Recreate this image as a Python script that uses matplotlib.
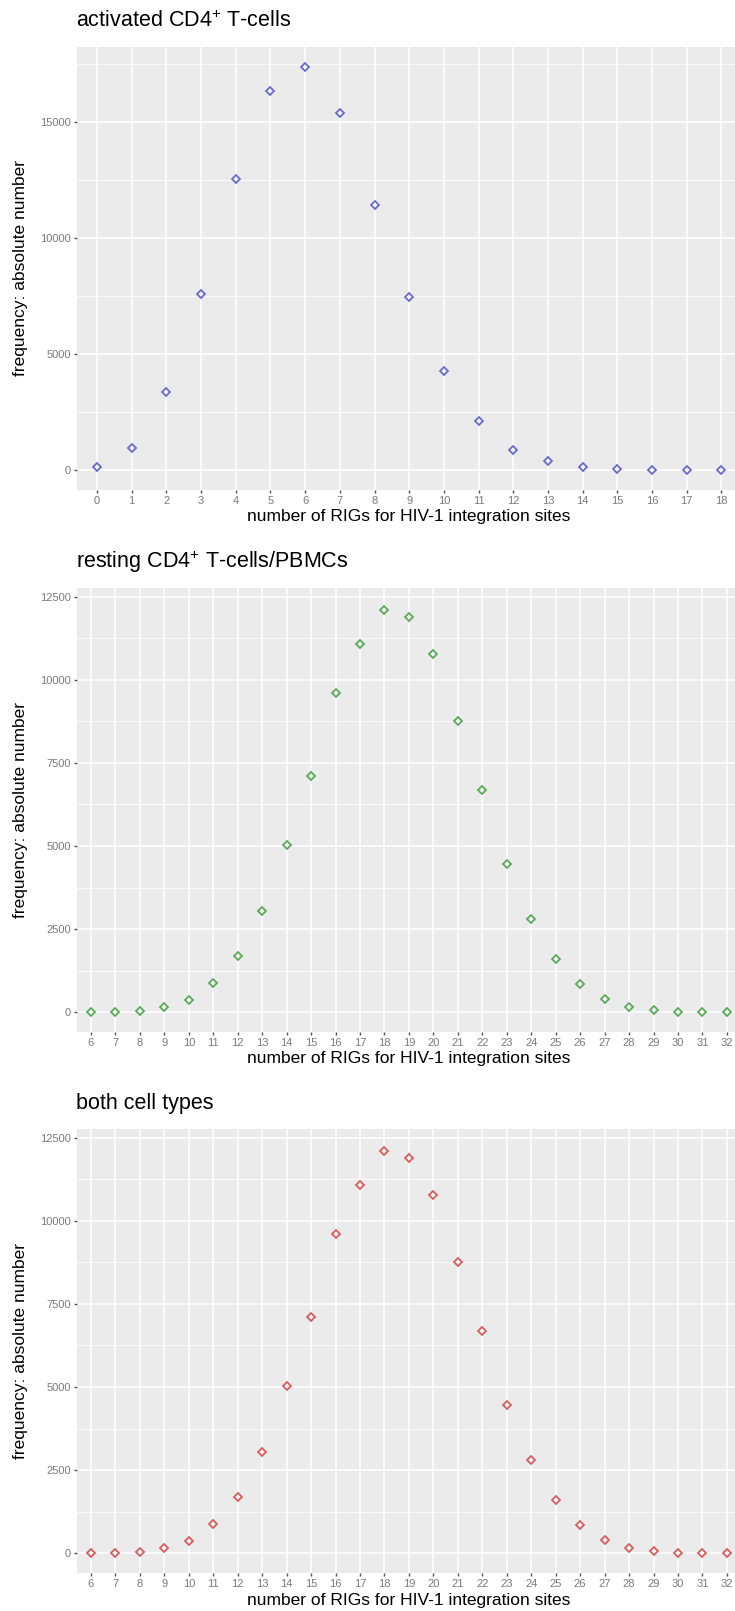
import matplotlib
matplotlib.use('Agg')
import matplotlib.pyplot as plt
from matplotlib.ticker import MultipleLocator

plt.rcParams['font.family'] = ['Liberation Sans', 'DejaVu Sans']
plt.rcParams['mathtext.fontset'] = 'custom'
plt.rcParams['mathtext.rm'] = 'Liberation Sans'
plt.rcParams['mathtext.it'] = 'Liberation Sans:italic'
plt.rcParams['mathtext.bf'] = 'Liberation Sans:bold'

# ---------------- data ----------------
act_x = list(range(0, 19))
act_y = [130, 930, 3350, 7580, 12520, 16330, 17370, 15360, 11420, 7460,
         4250, 2110, 870, 370, 130, 50, 15, 5, 2]

rest_x = list(range(6, 33))
rest_y = [5, 10, 50, 170, 370, 890, 1700, 3040, 5040, 7100, 9600, 11090,
          12090, 11900, 10770, 8760, 6690, 4450, 2820, 1610, 840, 400, 160,
          60, 20, 5, 2]

both_x = list(range(6, 33))
both_y = [5, 10, 50, 170, 370, 890, 1700, 3040, 5040, 7100, 9600, 11090,
          12090, 11900, 10770, 8760, 6690, 4450, 2820, 1610, 840, 400, 160,
          60, 20, 5, 2]

titles = ['activated CD4$^{+}$ T-cells', 'resting CD4$^{+}$ T-cells/PBMCs',
          'both cell types']
xlabel = 'number of RIGs for HIV-1 integration sites'
ylabel = 'frequency: absolute number'
colors = ['#6a6ad2', '#5aab5a', '#d95f5f']

# ---------------- layout ----------------
W, H = 735, 1611
fig = plt.figure(figsize=(W / 100, H / 100), dpi=100)

panels = [
    dict(x=act_x, y=act_y, top=46.7, bottom=490, xlim=(-0.576, 18.39),
         ylim=(-861, 18230), major=5000, minor=2500),
    dict(x=rest_x, y=rest_y, top=588, bottom=1032, xlim=(5.43, 32.33),
         ylim=(-592, 12760), major=2500, minor=1250),
    dict(x=both_x, y=both_y, top=1129, bottom=1573, xlim=(5.43, 32.33),
         ylim=(-592, 12760), major=2500, minor=1250),
]
left_px, right_px = 77, 735
title_base = [26.7, 567.7, 1108.7]

for i, p in enumerate(panels):
    ax = fig.add_axes([left_px / W, 1 - p['bottom'] / H,
                       (right_px - left_px) / W, (p['bottom'] - p['top']) / H])
    ax.set_facecolor('#ebebeb')
    for s in ax.spines.values():
        s.set_visible(False)
    ax.set_xlim(*p['xlim'])
    ax.set_ylim(*p['ylim'])
    ax.set_xticks(p['x'])
    ax.set_xticklabels([str(v) for v in p['x']])
    ax.yaxis.set_major_locator(MultipleLocator(p['major']))
    ax.yaxis.set_minor_locator(MultipleLocator(p['minor']))
    ax.grid(which='major', color='white', linewidth=1.1)
    ax.grid(which='minor', axis='y', color='white', linewidth=0.55)
    ax.set_axisbelow(True)
    ax.tick_params(which='major', length=2.5, width=1.0, color='#555555',
                   labelcolor='#7a7a7a', labelsize=8, pad=2)
    ax.tick_params(which='minor', length=0)
    ax.plot(p['x'], p['y'], linestyle='none', marker='D', markersize=4.2,
            markerfacecolor='none', markeredgecolor=colors[i],
            markeredgewidth=1.3)
    fig.text(76 / W, 1 - title_base[i] / H, titles[i], fontsize=15.5,
             ha='left', va='baseline', color='black')
    fig.text(409 / W, 1 - (p['bottom'] + 27) / H, xlabel, fontsize=12.5,
             ha='center', va='center', color='black')
    fig.text(21 / W, 1 - (p['top'] + p['bottom']) / 2 / H, ylabel,
             fontsize=12.5, ha='center', va='center', rotation=90,
             color='black')

fig.savefig('out.png', dpi=100, facecolor='white')
